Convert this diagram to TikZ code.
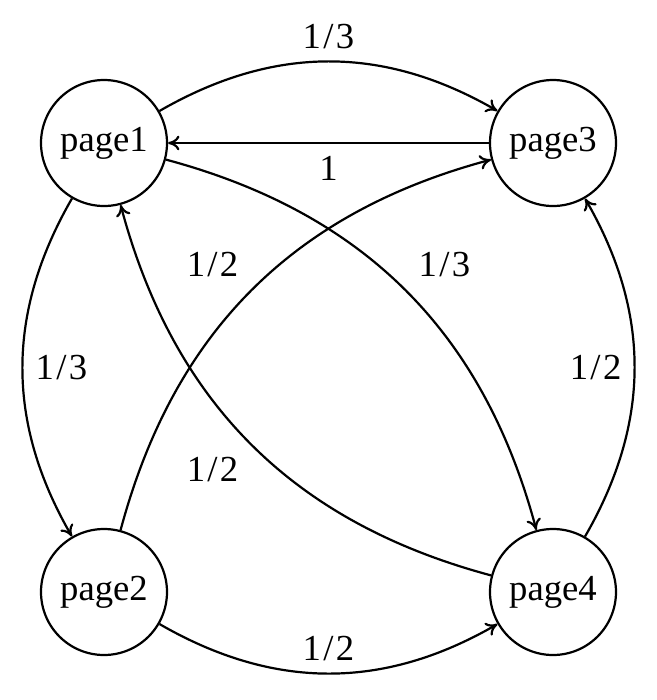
\documentclass[tikz,border=0pt]{standalone}
\usepackage{fontspec}
\usetikzlibrary{arrows.meta}
\setmainfont{Liberation Serif}
% a weight such as 1/3, with a little air around the slash
\newcommand{\wt}[2]{#1\kern0.7pt/\kern0.7pt#2}
\begin{document}
\begin{tikzpicture}[x=0.3pt,y=-0.3pt,
  font=\fontsize{11}{13}\selectfont,
  page/.style={circle, draw, line width=0.66pt, minimum size=37.8pt, inner sep=0pt},
  link/.style={-{Computer Modern Rightarrow[length=3.4pt,width=4.4pt]}, line width=0.66pt, auto},
  lbl/.style={inner sep=3.6pt}]
  \useasboundingbox (0,0) rectangle (656,700);
  % the four pages
  \node[page] (p1) at (104,143) {page1};
  \node[page] (p3) at (553,143) {page3};
  \node[page] (p2) at (104,592) {page2};
  \node[page] (p4) at (553,592) {page4};
  % links between pages, labelled with transition weights
  \draw[link] (p1) to[bend left=30] node[lbl] {\wt{1}{3}} (p3);
  \draw[link] (p3) to node[lbl] {1} (p1);
  \draw[link] (p1) to[bend right=30] node[lbl] {\wt{1}{3}} (p2);
  \draw[link] (p1) to[bend left=30] node[lbl] {\wt{1}{3}} (p4);
  \draw[link] (p2) to[bend right=30] node[lbl] {\wt{1}{2}} (p4);
  \draw[link] (p2) to[bend left=30] node[lbl] {\wt{1}{2}} (p3);
  \draw[link] (p4) to[bend right=30] node[lbl] {\wt{1}{2}} (p3);
  \draw[link] (p4) to[bend left=30] node[lbl] {\wt{1}{2}} (p1);
\end{tikzpicture}
\end{document}
